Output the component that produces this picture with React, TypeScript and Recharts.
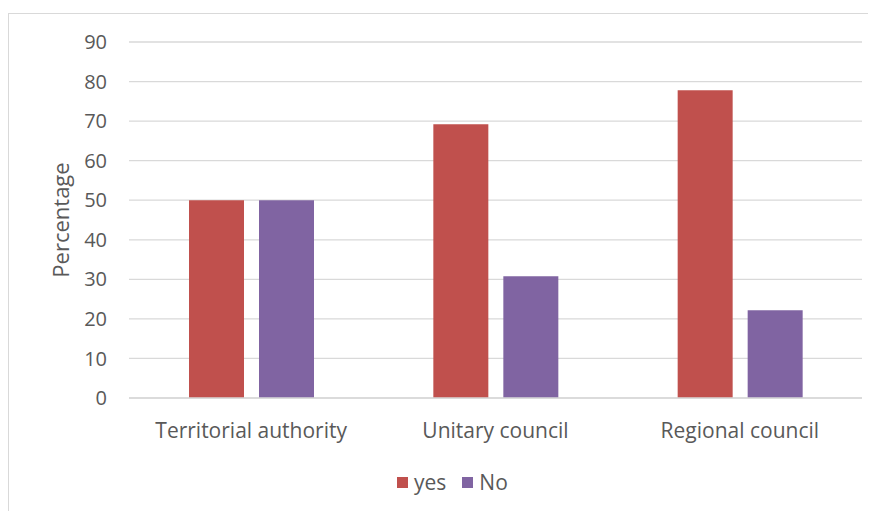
import { Bar, BarChart, CartesianGrid, Legend, XAxis, YAxis } from "recharts";

const categories = ["Territorial authority", "Unitary council", "Regional council"];
const yesValues = [50, 69.2, 77.8];
const noValues = [50, 30.8, 22.2];
const yTicks = [0, 10, 20, 30, 40, 50, 60, 70, 80, 90];

const RED = "#C0504D";
const PURPLE = "#8064A2";
const TEXT = "#595959";
const GRID = "#d9d9d9";
const FONT = "'Open Sans', sans-serif";

const data = categories.map((name, i) => ({
  name,
  yes: yesValues[i],
  No: noValues[i],
}));

function LegendBox() {
  const items = [
    { label: "yes", fill: RED },
    { label: "No", fill: PURPLE },
  ];
  return (
    <div style={{ display: "flex", alignItems: "center", fontFamily: FONT, fontSize: 21, color: TEXT }}>
      {items.map((it) => (
        <div key={it.label} style={{ display: "flex", alignItems: "center", marginRight: 16 }}>
          <span style={{ width: 11, height: 11, background: it.fill, marginRight: 6, display: "inline-block" }} />
          <span>{it.label}</span>
        </div>
      ))}
    </div>
  );
}

function YLabel({ viewBox }: any) {
  const cx = 51;
  const cy = viewBox.y + viewBox.height / 2;
  return (
    <text
      x={cx}
      y={cy}
      transform={`rotate(-90 ${cx} ${cy})`}
      textAnchor="middle"
      dominantBaseline="central"
      fill={TEXT}
      fontSize={22}
      fontFamily={FONT}
    >
      Percentage
    </text>
  );
}

export default function App() {
  return (
    <div
      style={{
        marginTop: 5,
        width: 867,
        height: 497,
        borderLeft: `1px solid ${GRID}`,
        borderTop: `1px solid ${GRID}`,
        background: "#fff",
      }}
    >
      <BarChart
        width={867}
        height={497}
        data={data}
        margin={{ top: 28, right: 14, left: 0, bottom: 0 }}
        barSize={55}
        barGap={15}
      >
        <CartesianGrid vertical={false} stroke={GRID} strokeWidth={1.3} />
        <XAxis
          dataKey="name"
          tickLine={false}
          axisLine={{ stroke: GRID, strokeWidth: 1.3 }}
          tick={{ fill: TEXT, fontSize: 21, fontFamily: FONT }}
          tickSize={0}
          tickMargin={25}
          height={85}
          interval={0}
        />
        <YAxis
          domain={[0, 90]}
          ticks={yTicks}
          width={120}
          tickLine={false}
          axisLine={false}
          tickSize={0}
          tickMargin={22}
          tick={{ fill: TEXT, fontSize: 20, fontFamily: FONT }}
          label={<YLabel />}
        />
        <Legend
          content={<LegendBox />}
          wrapperStyle={{ position: "absolute", left: 388, top: 454, width: "auto" }}
        />
        <Bar dataKey="yes" fill={RED} isAnimationActive={false} />
        <Bar dataKey="No" fill={PURPLE} isAnimationActive={false} />
      </BarChart>
    </div>
  );
}
